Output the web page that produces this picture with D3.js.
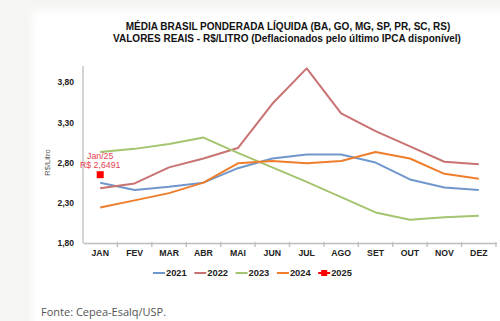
<!DOCTYPE html>
<html>
<head>
<meta charset="utf-8">
<script src="https://cdn.jsdelivr.net/npm/d3@7"></script>
<style>
  html, body { margin: 0; padding: 0; background: #f5f5f3; }
  svg { display: block; font-family: "Liberation Sans", Arial, sans-serif; }
</style>
</head>
<body>
<div id="chart"></div>
<script>
// meses e preços médios (R$/litro, valores reais)
var months = ['JAN', 'FEV', 'MAR', 'ABR', 'MAI', 'JUN', 'JUL', 'AGO', 'SET', 'OUT', 'NOV', 'DEZ'];
var years = ['2021', '2022', '2023', '2024', '2025'];
var s2021 = [2.55, 2.46, 2.50, 2.55, 2.73, 2.85, 2.90, 2.90, 2.80, 2.59, 2.49, 2.46];
var s2022 = [2.48, 2.54, 2.74, 2.85, 2.98, 3.53, 3.97, 3.41, 3.19, 3.00, 2.81, 2.78];
var s2023 = [2.93, 2.97, 3.03, 3.11, 2.92, 2.74, 2.56, 2.37, 2.18, 2.09, 2.12, 2.14];
var s2024 = [2.24, 2.33, 2.42, 2.55, 2.79, 2.82, 2.79, 2.82, 2.93, 2.85, 2.66, 2.60];
var s2025 = [2.6491];
var yTicks = [1.80, 2.30, 2.80, 3.30, 3.80];

var colors = ['#7097cc', '#c87372', '#a5c46f', '#ee7e2c', '#ff0000'];
var series = [s2021, s2022, s2023, s2024];

var width = 500, height = 321;

var ptBR = d3.formatLocale({decimal: ',', thousands: '.', grouping: [3], currency: ['R$ ', '']});
var fmt2 = ptBR.format('.2f');
var fmt4 = ptBR.format('.4f');

var svg = d3.select('#chart')
    .append('svg')
    .attr('width', width)
    .attr('height', height);

// painel branco do gráfico
var defs = svg.append('defs');
defs.append('filter')
    .attr('id', 'soft')
    .append('feGaussianBlur')
    .attr('stdDeviation', 4);
svg.append('rect')
    .attr('x', 32)
    .attr('y', 10)
    .attr('width', 480)
    .attr('height', 330)
    .attr('fill', '#ffffff')
    .attr('filter', 'url(#soft)');

var x = d3.scaleBand()
    .domain(months)
    .range([83, 496])
    .padding(0);

var y = d3.scaleLinear()
    .domain([1.8, 4.0])
    .range([243, 66]);

function cx(m) { return x(m) + x.bandwidth() / 2; }

// título
var title = svg.append('g')
    .attr('font-weight', 'bold')
    .attr('font-size', 10)
    .attr('fill', '#111')
    .attr('text-anchor', 'middle');
title.append('text')
    .attr('x', 288)
    .attr('y', 30)
    .text('MÉDIA BRASIL PONDERADA LÍQUIDA (BA, GO, MG, SP, PR, SC, RS)');
title.append('text')
    .attr('x', 287)
    .attr('y', 42)
    .text('VALORES REAIS - R$/LITRO (Deflacionados pelo último IPCA disponível)');

// eixo y
var yAxis = svg.append('g')
    .attr('transform', 'translate(83,0)')
    .call(d3.axisLeft(y).tickValues(yTicks).tickSize(0).tickPadding(9).tickFormat(fmt2));
yAxis.select('.domain')
    .attr('d', 'M0,' + y(4.0) + 'V' + y(1.8))
    .attr('stroke', '#bdbdbd')
    .attr('stroke-width', 1.3);
yAxis.selectAll('text')
    .attr('font-size', 8.5)
    .attr('font-weight', 'bold')
    .attr('font-family', '"Liberation Sans", Arial, sans-serif')
    .attr('fill', '#222');

svg.append('text')
    .attr('transform', 'translate(50,' + y(2.8) + ') rotate(-90)')
    .attr('text-anchor', 'middle')
    .attr('font-size', 7.5)
    .attr('fill', '#555')
    .text('R$/Litro');

// eixo x
var xAxis = svg.append('g')
    .attr('transform', 'translate(0,' + y(1.8) + ')')
    .call(d3.axisBottom(x).tickSize(0).tickPadding(7));
xAxis.select('.domain')
    .attr('stroke', '#bdbdbd')
    .attr('stroke-width', 1.3);
xAxis.selectAll('text')
    .attr('font-size', 8.7)
    .attr('font-weight', 'bold')
    .attr('font-family', '"Liberation Sans", Arial, sans-serif')
    .attr('fill', '#222');
xAxis.selectAll('line.sep')
    .data(months.slice(1).concat(['']))
    .enter()
    .append('line')
    .attr('class', 'sep')
    .attr('x1', function (d, i) { return x.range()[0] + x.bandwidth() * (i + 1); })
    .attr('x2', function (d, i) { return x.range()[0] + x.bandwidth() * (i + 1); })
    .attr('y1', -1)
    .attr('y2', 4)
    .attr('stroke', '#bdbdbd')
    .attr('stroke-width', 1.3);

// linhas por ano
var line = d3.line()
    .x(function (d, i) { return cx(months[i]); })
    .y(function (d) { return y(d); });

svg.selectAll('path.serie')
    .data(series)
    .enter()
    .append('path')
    .attr('class', 'serie')
    .attr('d', line)
    .attr('fill', 'none')
    .attr('stroke', function (d, i) { return colors[i]; })
    .attr('stroke-width', 2)
    .attr('stroke-linejoin', 'round');

// ponto de 2025
svg.selectAll('rect.p2025')
    .data(s2025)
    .enter()
    .append('rect')
    .attr('class', 'p2025')
    .attr('x', function (d, i) { return cx(months[i]) - 3.5; })
    .attr('y', function (d) { return y(d) - 3.5; })
    .attr('width', 7)
    .attr('height', 7)
    .attr('fill', colors[4]);

var note = svg.append('g')
    .attr('text-anchor', 'middle')
    .attr('font-size', 8.8)
    .attr('fill', '#e5414f');
note.append('text')
    .attr('x', cx(months[0]))
    .attr('y', y(s2025[0]) - 16)
    .text('Jan/25');
note.append('text')
    .attr('x', cx(months[0]))
    .attr('y', y(s2025[0]) - 7)
    .text('R$ ' + fmt4(s2025[0]));

// legenda
var legend = svg.append('g')
    .attr('transform', 'translate(153,273)');
var item = legend.selectAll('g')
    .data(years)
    .enter()
    .append('g')
    .attr('transform', function (d, i) { return 'translate(' + (i * 41.3) + ',0)'; });
item.append('line')
    .attr('x1', 0)
    .attr('x2', 12)
    .attr('stroke', function (d, i) { return colors[i]; })
    .attr('stroke-width', 2);
item.filter(function (d) { return d === '2025'; })
    .append('rect')
    .attr('x', 3)
    .attr('y', -3)
    .attr('width', 6)
    .attr('height', 6)
    .attr('fill', colors[4]);
item.append('text')
    .attr('x', 13)
    .attr('y', 3.3)
    .attr('font-size', 9.3)
    .attr('font-weight', 'bold')
    .attr('fill', '#222')
    .text(function (d) { return d; });

// fonte
svg.append('text')
    .attr('x', 41)
    .attr('y', 316)
    .style('font-family', '"Open Sans", sans-serif')
    .attr('font-size', 11)
    .attr('fill', '#555')
    .text('Fonte: Cepea-Esalq/USP.');
</script>
</body>
</html>
